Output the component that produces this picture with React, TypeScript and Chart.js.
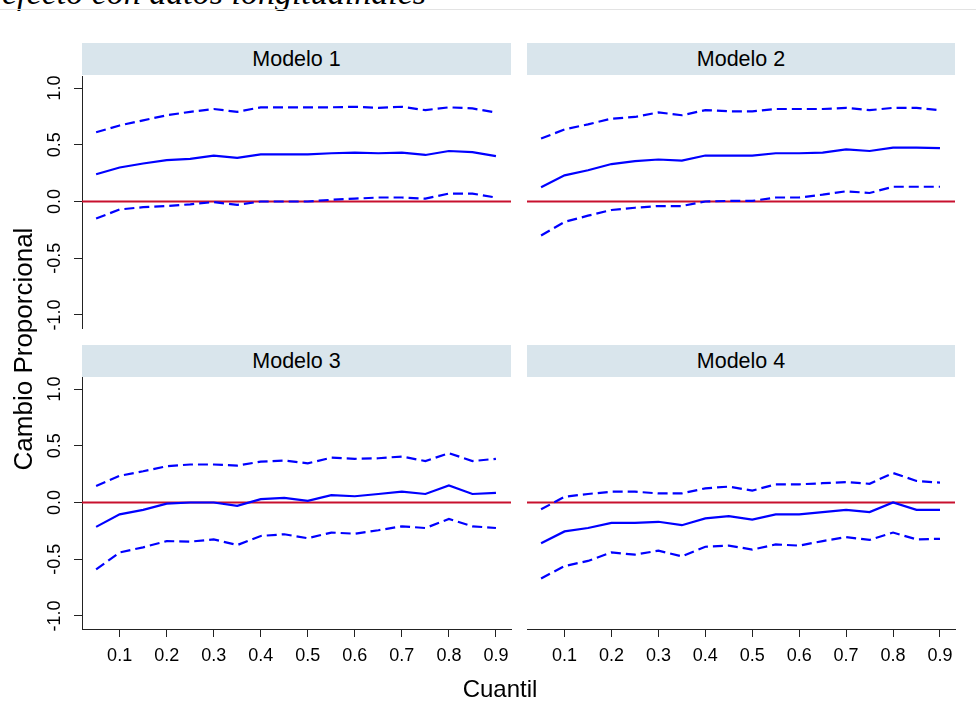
import React, { useEffect, useRef } from "react";
import { Chart, registerables } from "chart.js";

Chart.register(...registerables);

// ---------- data ----------
const QUANTILES = [0.05, 0.1, 0.15, 0.2, 0.25, 0.3, 0.35, 0.4, 0.45, 0.5, 0.55, 0.6, 0.65, 0.7, 0.75, 0.8, 0.85, 0.9];
const X_TICKS = [0.1, 0.2, 0.3, 0.4, 0.5, 0.6, 0.7, 0.8, 0.9];
const Y_TICKS = [-1.0, -0.5, 0.0, 0.5, 1.0];
const X_MIN = 0.02;
const X_MAX = 0.932;
const Y_MIN = -1.115;
const Y_MAX = 1.106;
const ZERO_LEVEL = 0;

const PANEL_TITLES = ["Modelo 1", "Modelo 2", "Modelo 3", "Modelo 4"];

const M1_EST = [0.24, 0.3, 0.335, 0.365, 0.375, 0.405, 0.385, 0.415, 0.415, 0.415, 0.425, 0.43, 0.425, 0.43, 0.41, 0.445, 0.435, 0.4];
const M1_UP = [0.61, 0.67, 0.715, 0.76, 0.79, 0.815, 0.79, 0.83, 0.83, 0.83, 0.83, 0.835, 0.825, 0.835, 0.805, 0.83, 0.82, 0.785];
const M1_LO = [-0.15, -0.07, -0.05, -0.04, -0.025, -0.005, -0.03, 0.0, 0.0, 0.0, 0.015, 0.025, 0.035, 0.035, 0.025, 0.07, 0.07, 0.035];

const M2_EST = [0.125, 0.23, 0.275, 0.33, 0.355, 0.37, 0.36, 0.405, 0.405, 0.405, 0.425, 0.425, 0.43, 0.46, 0.445, 0.475, 0.475, 0.47];
const M2_UP = [0.555, 0.635, 0.68, 0.73, 0.745, 0.785, 0.76, 0.805, 0.795, 0.795, 0.815, 0.815, 0.815, 0.825, 0.805, 0.825, 0.825, 0.805];
const M2_LO = [-0.3, -0.18, -0.125, -0.075, -0.055, -0.04, -0.04, 0.0, 0.005, 0.005, 0.035, 0.035, 0.06, 0.09, 0.075, 0.13, 0.13, 0.13];

const M3_EST = [-0.215, -0.105, -0.065, -0.01, 0.0, 0.0, -0.03, 0.03, 0.04, 0.015, 0.065, 0.055, 0.075, 0.095, 0.075, 0.15, 0.075, 0.085];
const M3_UP = [0.145, 0.235, 0.275, 0.32, 0.335, 0.335, 0.325, 0.36, 0.37, 0.345, 0.395, 0.385, 0.39, 0.405, 0.365, 0.435, 0.365, 0.385];
const M3_LO = [-0.59, -0.44, -0.395, -0.34, -0.345, -0.325, -0.375, -0.295, -0.28, -0.315, -0.265, -0.275, -0.245, -0.21, -0.225, -0.145, -0.21, -0.225];

const M4_EST = [-0.36, -0.255, -0.225, -0.18, -0.18, -0.17, -0.2, -0.14, -0.12, -0.15, -0.105, -0.105, -0.085, -0.065, -0.085, 0.0, -0.065, -0.065];
const M4_UP = [-0.06, 0.05, 0.075, 0.095, 0.095, 0.08, 0.08, 0.125, 0.14, 0.105, 0.16, 0.16, 0.17, 0.18, 0.165, 0.26, 0.19, 0.175];
const M4_LO = [-0.67, -0.56, -0.515, -0.44, -0.46, -0.425, -0.475, -0.39, -0.38, -0.415, -0.37, -0.38, -0.34, -0.305, -0.33, -0.265, -0.325, -0.32];

const PANEL_SERIES = [
  { est: M1_EST, up: M1_UP, lo: M1_LO },
  { est: M2_EST, up: M2_UP, lo: M2_LO },
  { est: M3_EST, up: M3_UP, lo: M3_LO },
  { est: M4_EST, up: M4_UP, lo: M4_LO },
];

// ---------- layout ----------
const W = 976;
const H = 724;
const COL_LEFT = [82, 527];
const COL_RIGHT = [511, 955];
const ROW_TOP = [76, 377];
const ROW_BOTTOM = [328, 629];
const STRIP_TOP = [43, 345];
const STRIP_H = 32;
const Y_AXIS_W = 60;
const X_AXIS_H = 45;
const BLUE = "#0000ff";
const RED = "#c8102e";
const FONT = "'Liberation Sans', Arial, sans-serif";

function toPoints(vals: number[]) {
  return QUANTILES.map((q, i) => ({ x: q, y: vals[i] }));
}

function Panel({ index }: { index: number }) {
  const ref = useRef<HTMLCanvasElement | null>(null);
  const row = Math.floor(index / 2);
  const col = index % 2;
  const showY = col === 0;
  const showX = row === 1;

  useEffect(() => {
    if (!ref.current) return;
    const s = PANEL_SERIES[index];
    const chart = new Chart(ref.current, {
      type: "line",
      data: {
        datasets: [
          { data: toPoints(s.est), borderColor: BLUE, borderWidth: 2.2, pointRadius: 0, tension: 0 },
          { data: toPoints(s.up), borderColor: BLUE, borderWidth: 2.2, borderDash: [10, 5], pointRadius: 0, tension: 0 },
          { data: toPoints(s.lo), borderColor: BLUE, borderWidth: 2.2, borderDash: [10, 5], pointRadius: 0, tension: 0 },
          {
            data: [
              { x: X_MIN, y: ZERO_LEVEL },
              { x: X_MAX, y: ZERO_LEVEL },
            ],
            borderColor: RED,
            borderWidth: 2.2,
            pointRadius: 0,
            tension: 0,
          },
        ],
      },
      options: {
        responsive: false,
        animation: false,
        events: [],
        layout: {
          padding: {
            left: COL_LEFT[col] - (showY ? Y_AXIS_W : 0),
            right: W - COL_RIGHT[col],
            top: ROW_TOP[row],
            bottom: H - ROW_BOTTOM[row] - (showX ? X_AXIS_H : 0),
          },
        },
        plugins: { legend: { display: false }, tooltip: { enabled: false }, title: { display: false } },
        scales: {
          x: {
            type: "linear",
            min: X_MIN,
            max: X_MAX,
            display: showX,
            afterBuildTicks: (scale: any) => {
              scale.ticks = X_TICKS.map((v) => ({ value: v }));
            },
            afterFit: (scale: any) => {
              scale.height = showX ? X_AXIS_H : 0;
              scale.paddingLeft = 0;
              scale.paddingRight = 0;
              scale.paddingTop = 0;
              scale.paddingBottom = 0;
            },
            grid: { display: true, drawOnChartArea: false, drawTicks: true, tickLength: 8, color: "#222", lineWidth: 1 },
            border: { display: true, color: "#222", width: 1 },
            ticks: {
              color: "#000",
              font: { family: FONT, size: 18 },
              padding: 8,
              maxRotation: 0,
              minRotation: 0,
              autoSkip: false,
              callback: (v: any) => Number(v).toFixed(1),
            },
          },
          y: {
            type: "linear",
            min: Y_MIN,
            max: Y_MAX,
            display: showY,
            afterBuildTicks: (scale: any) => {
              scale.ticks = Y_TICKS.map((v) => ({ value: v }));
            },
            afterFit: (scale: any) => {
              scale.width = showY ? Y_AXIS_W : 0;
              scale.paddingLeft = 0;
              scale.paddingRight = 0;
              scale.paddingTop = 0;
              scale.paddingBottom = 0;
            },
            grid: { display: true, drawOnChartArea: false, drawTicks: true, tickLength: 8, color: "#222", lineWidth: 1 },
            border: { display: true, color: "#222", width: 1 },
            ticks: {
              color: "#000",
              font: { family: FONT, size: 18 },
              padding: 3,
              minRotation: 90,
              maxRotation: 90,
              crossAlign: "center",
              autoSkip: false,
              callback: (v: any) => Number(v).toFixed(1),
            },
          },
        },
      } as any,
    });
    return () => chart.destroy();
  }, [index]);

  return (
    <canvas
      ref={ref}
      width={W}
      height={H}
      style={{ position: "absolute", left: 0, top: 0, width: W, height: H }}
    />
  );
}

function Strip({ index }: { index: number }) {
  const row = Math.floor(index / 2);
  const col = index % 2;
  return (
    <div
      style={{
        position: "absolute",
        left: COL_LEFT[col],
        top: STRIP_TOP[row],
        width: COL_RIGHT[col] - COL_LEFT[col],
        height: STRIP_H,
        background: "#d9e5ec",
        color: "#000",
        fontFamily: FONT,
        fontSize: 21.5,
        lineHeight: STRIP_H + "px",
        textAlign: "center",
      }}
    >
      {PANEL_TITLES[index]}
    </div>
  );
}

export default function App() {
  return (
    <div
      style={{
        position: "fixed",
        left: 0,
        top: 0,
        width: W,
        height: H,
        background: "#fff",
        overflow: "hidden",
      }}
    >
      <div
        style={{
          position: "absolute",
          left: 2,
          top: -24,
          fontFamily: "'Liberation Serif', 'Times New Roman', serif",
          fontStyle: "italic",
          fontSize: 34,
          lineHeight: "34px",
          whiteSpace: "nowrap",
          color: "#000",
        }}
      >
        efecto con datos longitudinales
      </div>
      <div style={{ position: "absolute", left: 0, top: 9, width: W, height: 1, background: "#e3e3e3" }} />
      {[0, 1, 2, 3].map((i) => (
        <Strip key={"s" + i} index={i} />
      ))}
      {[0, 1, 2, 3].map((i) => (
        <Panel key={"p" + i} index={i} />
      ))}
      <div
        style={{
          position: "absolute",
          left: 23 - 150,
          top: 349 - 15,
          width: 300,
          height: 30,
          lineHeight: "30px",
          textAlign: "center",
          transform: "rotate(-90deg)",
          fontFamily: FONT,
          fontSize: 26,
          color: "#000",
          whiteSpace: "nowrap",
        }}
      >
        Cambio Proporcional
      </div>
      <div
        style={{
          position: "absolute",
          left: 500 - 100,
          top: 676,
          width: 200,
          textAlign: "center",
          fontFamily: FONT,
          fontSize: 24,
          lineHeight: "26px",
          color: "#000",
        }}
      >
        Cuantil
      </div>
    </div>
  );
}
